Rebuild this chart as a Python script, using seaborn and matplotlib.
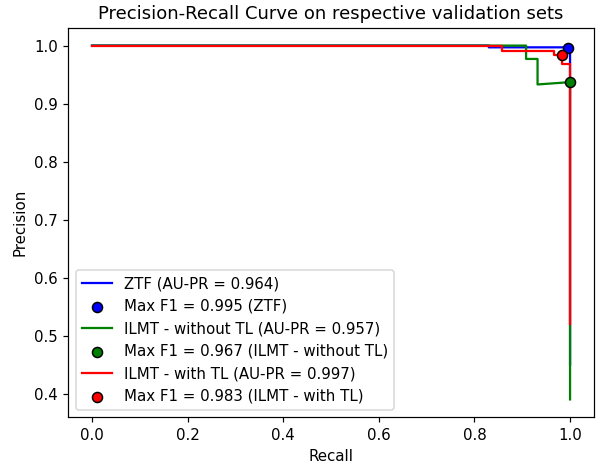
import matplotlib
matplotlib.use('Agg')
import matplotlib.pyplot as plt
import seaborn as sns
import pandas as pd

# PR curve points
ztf_recall = [0.0, 0.83, 0.83, 0.992, 1.0, 1.0]
ztf_precision = [1.0, 1.0, 0.997, 0.997, 0.99, 0.45]
ztf_best = (0.996, 0.995)
ztf_auc, ztf_f1 = 0.964, 0.995

ilmt_recall = [0.0, 0.908, 0.908, 0.932, 0.932, 1.0, 1.0]
ilmt_precision = [1.0, 1.0, 0.977, 0.977, 0.933, 0.937, 0.39]
ilmt_best = (1.0, 0.937)
ilmt_auc, ilmt_f1 = 0.957, 0.967

tl_recall = [0.0, 0.857, 0.857, 0.966, 0.966, 0.983, 0.983, 1.0, 1.0]
tl_precision = [1.0, 1.0, 0.991, 0.991, 0.984, 0.984, 0.969, 0.969, 0.52]
tl_best = (0.983, 0.984)
tl_auc, tl_f1 = 0.997, 0.983


def plot_curves():
    dpi = 108
    fig, ax = plt.subplots(figsize=(603 / dpi, 465 / dpi), dpi=dpi)
    fig.subplots_adjust(left=0.113, right=0.985, top=0.940, bottom=0.103)

    runs = [
        ('ZTF', 'blue', ztf_recall, ztf_precision, ztf_best, ztf_auc, ztf_f1),
        ('ILMT - without TL', 'green', ilmt_recall, ilmt_precision, ilmt_best, ilmt_auc, ilmt_f1),
        ('ILMT - with TL', 'red', tl_recall, tl_precision, tl_best, tl_auc, tl_f1),
    ]
    for name, color, rec, prec, best, auc, f1 in runs:
        df = pd.DataFrame({'recall': rec, 'precision': prec})
        sns.lineplot(ax=ax, data=df, x='recall', y='precision', sort=False,
                     estimator=None, color=color, linewidth=1.5,
                     label='{} (AU-PR = {:.3f})'.format(name, auc))
        pt = pd.DataFrame({'recall': [best[0]], 'precision': [best[1]]})
        sns.scatterplot(ax=ax, data=pt, x='recall', y='precision', color=color,
                        edgecolor='black', linewidth=1, s=45, zorder=5,
                        label='Max F1 = {:.3f} ({})'.format(f1, name))

    ax.legend(loc='lower left')
    ax.set_title('Precision-Recall Curve on respective validation sets')
    ax.set_xlabel('Recall')
    ax.set_ylabel('Precision')
    fig.savefig('out.png', dpi=dpi)


if __name__ == "__main__":
    plot_curves()
